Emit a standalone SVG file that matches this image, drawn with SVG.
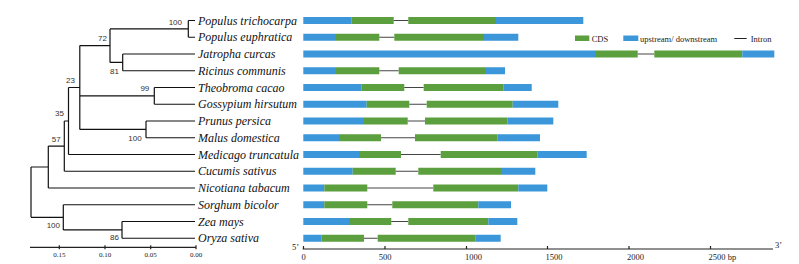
<svg xmlns="http://www.w3.org/2000/svg" width="799" height="264" viewBox="0 0 799 264">
<style>
.br{fill:none;stroke:#111;stroke-width:1.2}
.sp{font-family:"Liberation Serif",serif;font-style:italic;font-size:12px;fill:#111}
.bs{font-family:"Liberation Sans",Arial,sans-serif;font-size:8px;fill:#333}
.ax{font-family:"Liberation Serif",serif;font-size:8.5px;fill:#222}
.sc{font-family:"Liberation Serif",serif;font-size:7px;fill:#222}
.u{fill:#3b97d9}
.c{fill:#5c9f3e}
.in{stroke:#444;stroke-width:1}
.axl{stroke:#222;stroke-width:1.2;fill:none}
</style>
<rect width="799" height="264" fill="#fff"/>
<g id="tree" class="br">
<path d="M188.3,20.5V37.25M188.3,20.5H195M188.3,37.25H195M110,28.9H188.3"/>
<path d="M122.7,54V70.75M122.7,54H195M122.7,70.75H195M110,62.4H122.7"/>
<path d="M110,28.9V62.4M79.8,45.6H110"/>
<path d="M154.3,87.5V104.25M154.3,87.5H195M154.3,104.25H195M79.8,95.9H154.3"/>
<path d="M146,121V137.75M146,121H195M146,137.75H195M79.8,129.4H146"/>
<path d="M79.8,45.6V129.4M68.5,87.5H79.8"/>
<path d="M68.5,87.5V154.5M68.5,154.5H195M64.3,121H68.5"/>
<path d="M64.3,121V171.25M64.3,171.25H195M48.3,146.1H64.3"/>
<path d="M48.3,146.1V188M48.3,188H195M31,167H48.3"/>
<path d="M31,167V217.3M31,217.3H63.3"/>
<path d="M63.3,204.75V229.9M63.3,204.75H195M63.3,229.9H122"/>
<path d="M122,221.5V238.25M122,221.5H195M122,238.25H195"/>
</g>
<g id="bootstrap">
<text class="bs" x="182" y="24.5" text-anchor="end">100</text>
<text class="bs" x="107" y="41" text-anchor="end">72</text>
<text class="bs" x="110" y="74">81</text>
<text class="bs" x="75" y="83" text-anchor="end">23</text>
<text class="bs" x="149.3" y="91" text-anchor="end">99</text>
<text class="bs" x="64" y="116" text-anchor="end">35</text>
<text class="bs" x="141.7" y="140.5" text-anchor="end">100</text>
<text class="bs" x="60.7" y="142" text-anchor="end">57</text>
<text class="bs" x="60" y="228" text-anchor="end">100</text>
<text class="bs" x="119" y="240" text-anchor="end">86</text>
</g>
<g id="species">
<text class="sp" x="198" y="24.5">Populus trichocarpa</text>
<text class="sp" x="198" y="41.25">Populus euphratica</text>
<text class="sp" x="198" y="58">Jatropha curcas</text>
<text class="sp" x="198" y="74.75">Ricinus communis</text>
<text class="sp" x="198" y="91.5">Theobroma cacao</text>
<text class="sp" x="198" y="108.25">Gossypium hirsutum</text>
<text class="sp" x="198" y="125">Prunus persica</text>
<text class="sp" x="198" y="141.75">Malus domestica</text>
<text class="sp" x="198" y="158.5">Medicago truncatula</text>
<text class="sp" x="198" y="175.25">Cucumis sativus</text>
<text class="sp" x="198" y="192">Nicotiana tabacum</text>
<text class="sp" x="198" y="208.75">Sorghum bicolor</text>
<text class="sp" x="198" y="225.5">Zea mays</text>
<text class="sp" x="198" y="242.25">Oryza sativa</text>
</g>
<g id="treescale">
<path class="axl" d="M30,247.3H196M59.3,245.3V249.3M105,245.3V249.3M150.7,245.3V249.3M196,245.3V249.3"/>
<text class="sc" x="59.3" y="257" text-anchor="middle">0.15</text>
<text class="sc" x="105" y="257" text-anchor="middle">0.10</text>
<text class="sc" x="150.7" y="257" text-anchor="middle">0.05</text>
<text class="sc" x="196" y="257" text-anchor="middle">0.00</text>
</g>
<g id="genes">
<g id="g0"><rect class="u" x="303.3" y="17" width="48.4" height="7"/><rect class="c" x="351.7" y="17" width="42" height="7"/><line class="in" x1="393.7" y1="20.5" x2="408.3" y2="20.5"/><rect class="c" x="408.3" y="17" width="87.7" height="7"/><rect class="u" x="496" y="17" width="87.3" height="7"/></g>
<g id="g1"><rect class="u" x="303.3" y="33.75" width="32.7" height="7"/><rect class="c" x="336" y="33.75" width="43.3" height="7"/><line class="in" x1="379.3" y1="37.25" x2="394.3" y2="37.25"/><rect class="c" x="394.3" y="33.75" width="89.7" height="7"/><rect class="u" x="484" y="33.75" width="34.3" height="7"/></g>
<g id="g2"><rect class="u" x="303.3" y="50.5" width="291.7" height="7"/><rect class="c" x="595" y="50.5" width="42.7" height="7"/><line class="in" x1="637.7" y1="54" x2="654.3" y2="54"/><rect class="c" x="654.3" y="50.5" width="88" height="7"/><rect class="u" x="742.3" y="50.5" width="32" height="7"/></g>
<g id="g3"><rect class="u" x="303.3" y="67.25" width="32.7" height="7"/><rect class="c" x="336" y="67.25" width="43.3" height="7"/><line class="in" x1="379.3" y1="70.75" x2="398.7" y2="70.75"/><rect class="c" x="398.7" y="67.25" width="87.3" height="7"/><rect class="u" x="486" y="67.25" width="19" height="7"/></g>
<g id="g4"><rect class="u" x="303.3" y="84" width="58.4" height="7"/><rect class="c" x="361.7" y="84" width="42.6" height="7"/><line class="in" x1="404.3" y1="87.5" x2="423.7" y2="87.5"/><rect class="c" x="423.7" y="84" width="79.6" height="7"/><rect class="u" x="503.3" y="84" width="28.4" height="7"/></g>
<g id="g5"><rect class="u" x="303.3" y="100.75" width="63.4" height="7"/><rect class="c" x="366.7" y="100.75" width="42.6" height="7"/><line class="in" x1="409.3" y1="104.25" x2="426.7" y2="104.25"/><rect class="c" x="426.7" y="100.75" width="86" height="7"/><rect class="u" x="512.7" y="100.75" width="45.6" height="7"/></g>
<g id="g6"><rect class="u" x="303.3" y="117.5" width="60.7" height="7"/><rect class="c" x="364" y="117.5" width="43.7" height="7"/><line class="in" x1="407.7" y1="121" x2="425" y2="121"/><rect class="c" x="425" y="117.5" width="82.3" height="7"/><rect class="u" x="507.3" y="117.5" width="46" height="7"/></g>
<g id="g7"><rect class="u" x="303.3" y="134.25" width="35.7" height="7"/><rect class="c" x="339" y="134.25" width="42" height="7"/><line class="in" x1="381" y1="137.75" x2="415" y2="137.75"/><rect class="c" x="415" y="134.25" width="82.3" height="7"/><rect class="u" x="497.3" y="134.25" width="42.7" height="7"/></g>
<g id="g8"><rect class="u" x="303.3" y="151" width="55.7" height="7"/><rect class="c" x="359" y="151" width="42" height="7"/><line class="in" x1="401" y1="154.5" x2="440.7" y2="154.5"/><rect class="c" x="440.7" y="151" width="96.6" height="7"/><rect class="u" x="537.3" y="151" width="49.4" height="7"/></g>
<g id="g9"><rect class="u" x="303.3" y="167.75" width="49.4" height="7"/><rect class="c" x="352.7" y="167.75" width="43" height="7"/><line class="in" x1="395.7" y1="171.25" x2="418.3" y2="171.25"/><rect class="c" x="418.3" y="167.75" width="82.7" height="7"/><rect class="u" x="501" y="167.75" width="34.3" height="7"/></g>
<g id="g10"><rect class="u" x="303.3" y="184.5" width="21" height="7"/><rect class="c" x="324.3" y="184.5" width="43" height="7"/><line class="in" x1="367.3" y1="188" x2="433.3" y2="188"/><rect class="c" x="433.3" y="184.5" width="85" height="7"/><rect class="u" x="518.3" y="184.5" width="29" height="7"/></g>
<g id="g11"><rect class="u" x="303.3" y="201.25" width="21" height="7"/><rect class="c" x="324.3" y="201.25" width="43" height="7"/><line class="in" x1="367.3" y1="204.75" x2="392.3" y2="204.75"/><rect class="c" x="392.3" y="201.25" width="86" height="7"/><rect class="u" x="478.3" y="201.25" width="32.7" height="7"/></g>
<g id="g12"><rect class="u" x="303.3" y="218" width="45.7" height="7"/><rect class="c" x="349" y="218" width="42.3" height="7"/><line class="in" x1="391.3" y1="221.5" x2="408.3" y2="221.5"/><rect class="c" x="408.3" y="218" width="80" height="7"/><rect class="u" x="488.3" y="218" width="29" height="7"/></g>
<g id="g13"><rect class="u" x="303.3" y="234.75" width="18.4" height="7"/><rect class="c" x="321.7" y="234.75" width="42.3" height="7"/><line class="in" x1="364" y1="238.25" x2="377.7" y2="238.25"/><rect class="c" x="377.7" y="234.75" width="98" height="7"/><rect class="u" x="475.7" y="234.75" width="25" height="7"/></g>
</g>
<g id="legend">
<rect class="c" x="575" y="35.5" width="14.3" height="5.5"/>
<text class="ax" x="591.7" y="42">CDS</text>
<rect class="u" x="623.3" y="35.5" width="15" height="5.5"/>
<text class="ax" x="640" y="42">upstream/ downstream</text>
<line x1="734.3" y1="38.5" x2="746.7" y2="38.5" stroke="#222" stroke-width="1"/>
<text class="ax" x="750.7" y="42">Intron</text>
</g>
<g id="bpaxis">
<path class="axl" d="M302.7,249H773M303.5,246V249M385,246V249M466.5,246V249M547.5,246V249M629,246V249M710.5,246V249"/>
<text class="ax" x="292" y="250">5’</text>
<text class="ax" x="775" y="247.5">3’</text>
<text class="ax" x="303.5" y="259.5" text-anchor="middle">0</text>
<text class="ax" x="385" y="259.5" text-anchor="middle">500</text>
<text class="ax" x="465" y="259.5">1000</text>
<text class="ax" x="545.5" y="259.5">1500</text>
<text class="ax" x="627" y="259.5">2000</text>
<text class="ax" x="708.5" y="259.5">2500 bp</text>
</g>
</svg>
